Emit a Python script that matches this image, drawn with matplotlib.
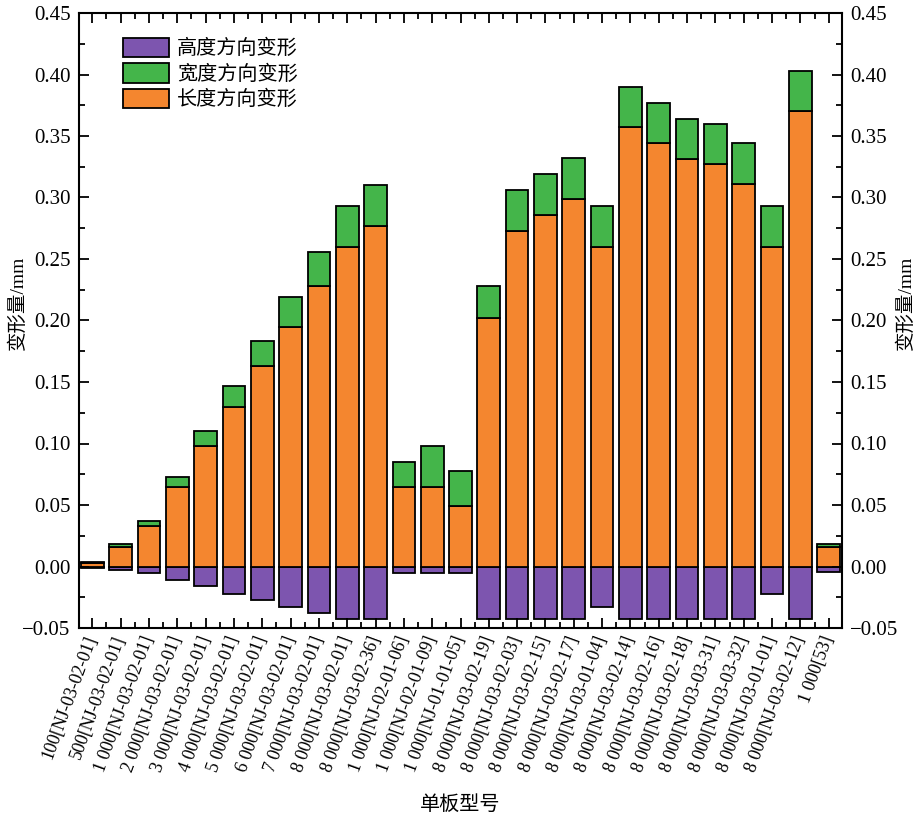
import matplotlib
matplotlib.use("Agg")
import matplotlib.pyplot as plt
import numpy as np
from matplotlib.ticker import MultipleLocator
from matplotlib.patches import Patch

plt.rcParams['font.family'] = ['Liberation Serif', 'Noto Sans CJK SC', 'DejaVu Sans']
plt.rcParams['axes.unicode_minus'] = True

categories = [
    "100[NJ-03-02-01]", "500[NJ-03-02-01]", "1 000[NJ-03-02-01]", "2 000[NJ-03-02-01]",
    "3 000[NJ-03-02-01]", "4 000[NJ-03-02-01]", "5 000[NJ-03-02-01]", "6 000[NJ-03-02-01]",
    "7 000[NJ-03-02-01]", "8 000[NJ-03-02-01]", "8 000[NJ-03-02-36]", "1 000[NJ-02-01-06]",
    "1 000[NJ-02-01-09]", "1 000[NJ-01-01-05]", "8 000[NJ-03-02-19]", "8 000[NJ-03-02-03]",
    "8 000[NJ-03-02-15]", "8 000[NJ-03-02-17]", "8 000[NJ-03-01-04]", "8 000[NJ-03-02-14]",
    "8 000[NJ-03-02-16]", "8 000[NJ-03-02-18]", "8 000[NJ-03-03-31]", "8 000[NJ-03-03-32]",
    "8 000[NJ-03-01-01]", "8 000[NJ-03-02-12]", "1 000[53]",
]

# length-direction deformation (orange, from 0 upward)
length_def = [0.003, 0.016, 0.033, 0.065, 0.098, 0.130, 0.163, 0.195, 0.228, 0.260,
              0.277, 0.065, 0.065, 0.049, 0.202, 0.273, 0.286, 0.299, 0.260, 0.357,
              0.344, 0.331, 0.327, 0.311, 0.260, 0.370, 0.016]
# width-direction deformation (green, stacked on top of orange)
width_def = [0.0005, 0.0025, 0.004, 0.008, 0.012, 0.0165, 0.020, 0.024, 0.028, 0.033,
             0.033, 0.020, 0.033, 0.029, 0.026, 0.033, 0.033, 0.033, 0.033, 0.033,
             0.033, 0.033, 0.033, 0.033, 0.033, 0.033, 0.0025]
# height-direction deformation (purple, from 0 downward)
height_def = [-0.001, -0.003, -0.005, -0.011, -0.016, -0.022, -0.027, -0.033, -0.038, -0.0427,
              -0.0427, -0.005, -0.005, -0.005, -0.0427, -0.0427, -0.0427, -0.0427, -0.033, -0.0427,
              -0.0427, -0.0427, -0.0427, -0.0427, -0.022, -0.0427, -0.0047]

legend_labels = ["高度方向变形", "宽度方向变形", "长度方向变形"]
c_purple = '#7D55AF'
c_green = '#44B54A'
c_orange = '#F4862F'

fig = plt.figure(figsize=(9.19, 8.24), dpi=100)
ax = fig.add_axes([79/919, 1-628/824, (842-79)/919, (628-13)/824])

x = np.arange(len(categories))
w = 0.8
lw = 1.3
ax.bar(x, height_def, w, color=c_purple, edgecolor='black', linewidth=lw)
ax.bar(x, length_def, w, color=c_orange, edgecolor='black', linewidth=lw)
ax.bar(x, width_def, w, bottom=length_def, color=c_green, edgecolor='black', linewidth=lw)

ax.set_xlim(-0.47, len(categories) - 0.53)
ax.set_ylim(-0.05, 0.45)
ax.yaxis.set_major_locator(MultipleLocator(0.05))
ax.yaxis.set_minor_locator(MultipleLocator(0.025))
ax.set_xticks(x)
ax.set_xticks(x[:-1] + 0.5, minor=True)
ax.set_xticklabels(categories, rotation=70, ha='right', va='center',
                   rotation_mode='anchor', fontsize=13)
ax.yaxis.set_major_formatter(matplotlib.ticker.FuncFormatter(
    lambda v, p: ("\u2212" if v < -1e-9 else "") + f"{abs(v):.2f}"))

ax.tick_params(axis='both', which='both', direction='in', top=True, right=True,
               labelright=True, width=1.3)
ax.tick_params(axis='both', which='major', length=7)
ax.tick_params(axis='y', which='major', labelsize=15, pad=6)
ax.tick_params(axis='x', which='major', labelsize=13, pad=6)
ax.tick_params(axis='both', which='minor', length=4)
for s in ax.spines.values():
    s.set_linewidth(1.5)

fig.text(18/919, 1-303/824, "变形量/mm", rotation=90, ha='center', va='center', fontsize=14)
fig.text(906/919, 1-303/824, "变形量/mm", rotation=90, ha='center', va='center', fontsize=14)
fig.text(460/919, 1-805/824, "单板型号", ha='center', va='center', fontsize=14.5)

handles = [Patch(facecolor=c, edgecolor='black', linewidth=1.3) for c in (c_purple, c_green, c_orange)]
ax.legend(handles, legend_labels, loc='upper left', bbox_to_anchor=(0.047, 0.973),
          frameon=False, fontsize=14.5, handlelength=2.3, handleheight=1.1,
          labelspacing=0.2, handletextpad=0.4, borderaxespad=0)

fig.savefig("out.png", dpi=100)
